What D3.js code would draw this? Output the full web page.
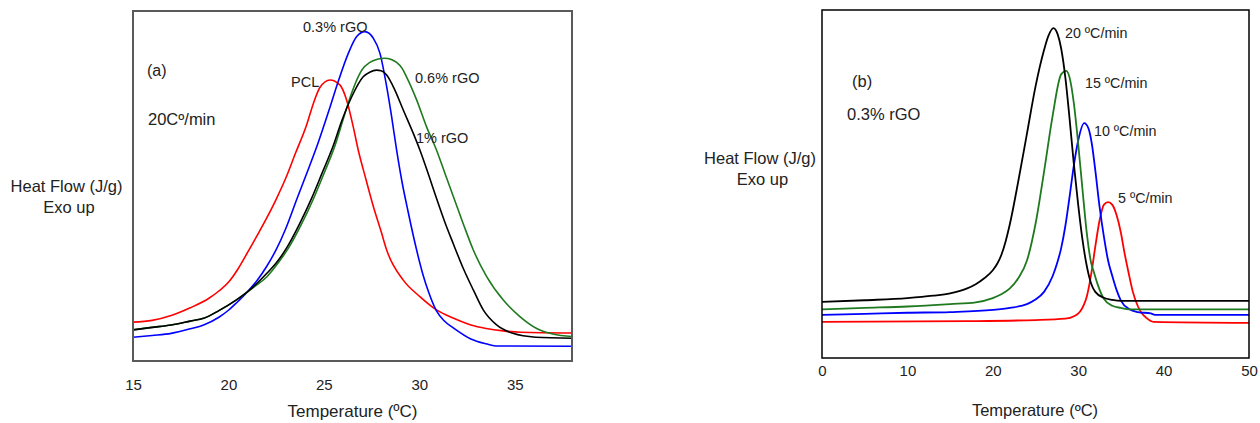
<!DOCTYPE html>
<html>
<head>
<meta charset="utf-8">
<title>DSC cooling curves</title>
<script src="https://cdn.jsdelivr.net/npm/d3@7"></script>
<style>
  body { margin: 0; background: #fff; }
  svg { display: block; font-family: "Liberation Sans", Arial, sans-serif; }
  .tick text { fill: #222; }
</style>
</head>
<body>
<script>
// ---- panel (a): 20 C/min, different rGO loadings (heat flow in arbitrary units) ----
var aTicks = [15, 20, 25, 30, 35];

var pclT = [15, 16, 17, 18, 19, 19.5, 20, 20.5, 21, 21.5, 22, 22.5, 23, 23.5, 24.1, 24.45, 24.8, 25.32, 25.84, 26.19, 26.54, 26.8, 27.2, 27.6, 28, 28.29, 29.16, 30.03, 30.9, 31.8, 32.7, 33.5, 34.4, 35.3, 38];
var pclV = [11.1, 11.6, 13.0, 15.2, 18.0, 20.0, 22.5, 26.3, 31.0, 35.8, 40.8, 46.2, 52.2, 59.2, 67.5, 73.6, 78.2, 80.3, 78.9, 74.6, 66.9, 60.3, 52.0, 44.0, 37.0, 31.7, 23.1, 18.4, 14.6, 12.2, 10.3, 9.3, 8.6, 8.2, 8.0];

var rgo03T = [15, 16, 17, 18, 18.7, 19.5, 20, 20.4, 21, 21.5, 22, 22.5, 23, 23.6, 24.2, 24.71, 25.32, 25.76, 26.28, 26.72, 27.15, 27.59, 27.94, 28.29, 28.55, 28.81, 29.1, 29.4, 29.86, 30.2, 30.5, 30.9, 31.3, 31.8, 32.7, 33.5, 34, 38];
var rgo03V = [6.8, 7.3, 7.9, 9.2, 10.3, 12.5, 14.5, 16.5, 19.8, 23.0, 27.0, 31.8, 37.8, 46.5, 55.0, 62.5, 72.5, 80.0, 87.9, 92.7, 94.1, 92.2, 87.9, 78.4, 69.8, 60.3, 51.0, 43.0, 31.7, 24.5, 19.5, 14.3, 11.5, 9.4, 6.3, 4.9, 4.3, 4.2];

var rgo06T = [15, 16, 17, 18, 18.7, 19.5, 20.4, 21.3, 22, 22.6, 23.15, 23.8, 24.45, 25, 25.58, 26.02, 26.45, 26.89, 27.0, 27.41, 27.8, 28.2, 28.5, 28.81, 29.1, 29.33, 29.86, 30.38, 30.9, 31.35, 31.85, 32.35, 32.83, 33.53, 34.4, 35.27, 36.15, 37, 38];
var rgo06V = [8.9, 9.6, 10.3, 11.4, 12.2, 14.4, 17.4, 21.0, 24.0, 28.0, 32.3, 38.8, 46.3, 53.5, 61.5, 69.2, 76.5, 82.2, 83.2, 85.3, 86.2, 86.5, 86.2, 85.3, 83.6, 81.2, 74.6, 66.9, 60.3, 53.5, 46.0, 38.5, 31.7, 24.1, 17.4, 12.7, 9.3, 7.7, 7.0];

var rgo1T = [15, 16, 17, 18, 18.7, 19.5, 20.4, 21.3, 22, 22.5, 23.05, 23.7, 24.35, 24.9, 25.49, 25.93, 26.46, 27.06, 27.4, 27.76, 28.0, 28.29, 28.72, 29.16, 29.68, 30.03, 30.5, 30.9, 31.35, 31.78, 32.3, 32.83, 33.35, 34.05, 34.9, 36.1, 38];
var rgo1V = [8.9, 9.6, 10.3, 11.4, 12.2, 14.4, 17.4, 21.2, 25.0, 28.0, 32.3, 38.9, 46.4, 53.6, 61.5, 68.5, 75.5, 81.2, 82.5, 83.1, 82.9, 81.7, 77.4, 71.7, 65.1, 60.3, 53.0, 46.5, 39.5, 33.5, 26.5, 20.3, 14.6, 10.3, 7.9, 6.8, 6.5];

// ---- panel (b): 0.3% rGO at different cooling rates ----
var bTicks = [0, 10, 20, 30, 40, 50];

var r20T = [0, 5, 10, 13, 15, 17, 18, 19, 20, 20.5, 21, 21.5, 22, 23, 24, 25, 26, 26.5, 27.1, 27.6, 28, 28.5, 29, 29.5, 30, 30.5, 31, 31.5, 32, 33, 34, 35, 50];
var r20V = [16.1, 16.6, 17.2, 17.9, 18.6, 20.0, 21.2, 22.9, 25.2, 27.0, 29.6, 33.5, 38.5, 51.0, 64.5, 78.0, 88.5, 92.5, 94.8, 93.0, 89.0, 80.5, 68.5, 55.5, 44.0, 34.0, 26.5, 21.5, 19.0, 17.3, 16.7, 16.4, 16.4];

var r15T = [0, 5, 10, 15, 18, 20, 21, 22, 23, 24, 25, 26, 27, 28, 28.6, 29, 29.5, 30, 30.5, 31, 31.5, 31.8, 32.3, 33, 34, 35, 36, 50];
var r15V = [14.0, 14.4, 14.8, 15.5, 16.0, 17.2, 18.3, 20.0, 23.0, 28.0, 38.5, 53.5, 69.5, 81.5, 82.5, 80.5, 73.0, 61.5, 48.5, 36.0, 27.5, 25.0, 21.0, 17.0, 15.0, 14.4, 14.0, 14.0];

var r10T = [0, 5, 10, 15, 20, 22, 24, 25, 26, 27, 27.5, 28, 28.5, 29, 29.5, 30, 30.7, 31.2, 31.6, 32, 32.5, 33, 33.5, 34, 34.5, 35, 36, 37, 38.5, 39, 50];
var r10V = [12.4, 12.7, 13.0, 13.2, 13.8, 14.4, 15.5, 16.8, 19.0, 23.5, 27.0, 31.5, 38.0, 46.5, 55.5, 62.5, 67.5, 66.0, 61.5, 54.0, 43.5, 35.0, 28.0, 23.5, 19.5, 16.5, 14.0, 13.2, 12.8, 12.4, 12.4];

var r5T = [0, 17, 25, 28.5, 29.5, 30.2, 30.7, 31, 31.3, 31.6, 32, 32.5, 33, 33.5, 34, 34.5, 35, 35.4, 35.9, 36.4, 37, 37.5, 38, 38.8, 50];
var r5V = [10.4, 10.6, 10.9, 11.3, 12.0, 13.3, 15.5, 17.6, 21.0, 25.3, 32.0, 39.5, 44.0, 44.8, 44.0, 41.0, 36.0, 30.5, 24.5, 19.0, 14.8, 12.7, 11.5, 10.4, 10.1];

var red = "#ff0000", blue = "#0000ff", green = "#1f7a1f", black = "#000000";

var svg = d3.select("body").append("svg")
  .attr("width", 1260)
  .attr("height", 423);

function zip(ts, vs) {
  return ts.map(function (t, i) { return [t, vs[i]]; });
}

// draws one panel: frame, x axis, curves
function panel(opt) {
  var x = d3.scaleLinear().domain(opt.xDomain).range([opt.left, opt.right]);
  var y = d3.scaleLinear().domain([0, 100]).range([opt.bottom, opt.top]);
  var g = svg.append("g");

  var line = d3.line()
    .x(function (d) { return x(d[0]); })
    .y(function (d) { return y(d[1]); })
    .curve(d3.curveMonotoneX);

  opt.series.forEach(function (s) {
    g.append("path")
      .datum(zip(s.t, s.v))
      .attr("fill", "none")
      .attr("stroke", s.color)
      .attr("stroke-width", opt.lineW)
      .attr("d", line);
  });

  g.append("rect")
    .attr("x", opt.left).attr("y", opt.top)
    .attr("width", opt.right - opt.left).attr("height", opt.bottom - opt.top)
    .attr("fill", "none")
    .attr("stroke", opt.frame)
    .attr("stroke-width", opt.frameW);

  var ax = g.append("g")
    .attr("transform", "translate(0," + opt.bottom + ")")
    .call(d3.axisBottom(x).tickValues(opt.ticks).tickSize(0).tickPadding(opt.pad));
  ax.select(".domain").remove();
  ax.selectAll("text").attr("font-size", 15).attr("font-family", "Liberation Sans, Arial, sans-serif");

  return { x: x, y: y, g: g };
}

var pa = panel({
  xDomain: [15, 38], left: 133, right: 572, top: 11, bottom: 361,
  ticks: aTicks, pad: 18, frame: "#5a5a5a", frameW: 2, lineW: 1.6,
  series: [
    { t: pclT, v: pclV, color: red },
    { t: rgo03T, v: rgo03V, color: blue },
    { t: rgo06T, v: rgo06V, color: green },
    { t: rgo1T, v: rgo1V, color: black }
  ]
});

var pb = panel({
  xDomain: [0, 50], left: 822, right: 1249, top: 10, bottom: 358,
  ticks: bTicks, pad: 7, frame: "#000", frameW: 1.5, lineW: 1.8,
  series: [
    { t: r5T, v: r5V, color: red },
    { t: r10T, v: r10V, color: blue },
    { t: r15T, v: r15V, color: green },
    { t: r20T, v: r20V, color: black }
  ]
});

function label(txt, x, y, size, anchor) {
  svg.append("text")
    .attr("x", x).attr("y", y)
    .attr("font-size", size)
    .attr("text-anchor", anchor || "start")
    .attr("fill", "#222")
    .text(txt);
}

// panel (a) texts
label("0.3% rGO", 303, 31.5, 14.5);
label("PCL", 291, 87, 14.5);
label("0.6% rGO", 415, 83, 14.5);
label("1% rGO", 416, 143, 14.5);
label("(a)", 147, 76, 16);
label("20Cº/min", 148, 125, 16.5);
label("Heat Flow (J/g)", 66.5, 192, 16.5, "middle");
label("Exo up", 69, 213, 16.5, "middle");
label("Temperature (ºC)", 352.5, 417, 17, "middle");

// panel (b) texts
label("20 ºC/min", 1065, 38, 14.3);
label("15 ºC/min", 1085, 87.5, 14.3);
label("10 ºC/min", 1094, 135.5, 14.3);
label("5 ºC/min", 1118, 202.5, 14.3);
label("(b)", 852, 87, 16.5);
label("0.3% rGO", 847, 120, 16.5);
label("Heat Flow (J/g)", 760, 164, 16.5, "middle");
label("Exo up", 762.5, 185, 16.5, "middle");
label("Temperature (ºC)", 1035, 416, 16.5, "middle");
</script>
</body>
</html>
